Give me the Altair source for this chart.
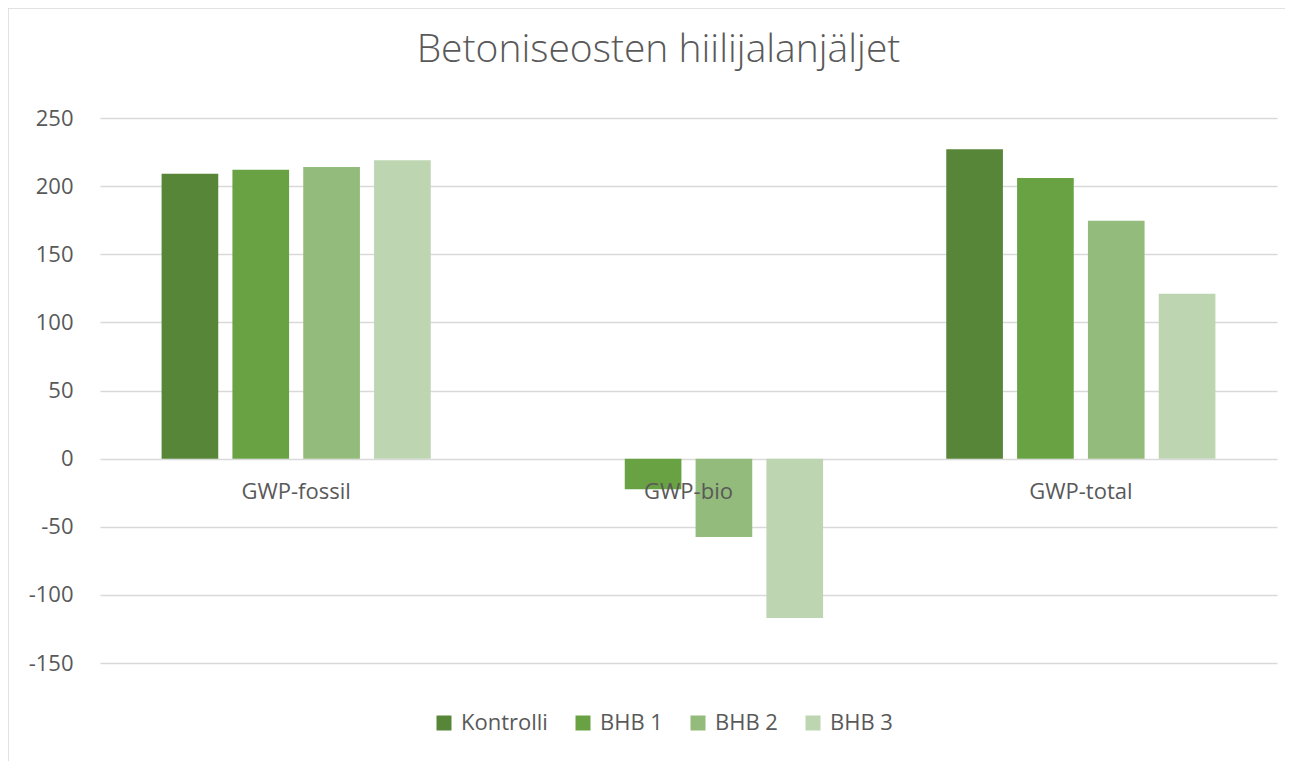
import altair as alt
import pandas as pd

categories = ["GWP-fossil", "GWP-bio", "GWP-total"]
series = ["Kontrolli", "BHB 1", "BHB 2", "BHB 3"]
values = {
    "Kontrolli": [209, 0, 227],
    "BHB 1": [212, -22.5, 206],
    "BHB 2": [214, -57.5, 174.5],
    "BHB 3": [219, -117, 121],
}
colors = ["#578639", "#69a243", "#93bb7b", "#bdd5b1"]
y_ticks = [-150, -100, -50, 0, 50, 100, 150, 200, 250]

rows = []
for s in series:
    for c, v in zip(categories, values[s]):
        rows.append({"Kategoria": c, "Sarja": s, "Arvo": v})
df = pd.DataFrame(rows)

FONT = "Open Sans"
GREY = "#595959"

bars = alt.Chart(df).mark_bar().encode(
    x=alt.X("Kategoria:N", sort=categories,
            scale=alt.Scale(paddingInner=0.314, paddingOuter=0.157),
            axis=alt.Axis(title=None, labelAngle=0, ticks=False, domain=False,
                          offset=-204, labelPadding=22, labelFontSize=22,
                          labelColor=GREY, labelFont=FONT, zindex=1)),
    xOffset=alt.XOffset("Sarja:N", sort=series,
                        scale=alt.Scale(paddingInner=0.2, paddingOuter=0)),
    y=alt.Y("Arvo:Q", scale=alt.Scale(domain=[-150, 250], nice=False, zero=False),
            axis=alt.Axis(title=None, values=y_ticks, ticks=False, domain=False,
                          labelExpr="'' + datum.value",
                          labelPadding=27, labelFontSize=22, labelColor=GREY,
                          labelFont=FONT, gridColor="#d9d9d9", gridWidth=1.5)),
    color=alt.Color("Sarja:N", sort=series,
                    scale=alt.Scale(domain=series, range=colors),
                    legend=alt.Legend(title=None, orient="none", direction="horizontal",
                                      legendX=333, legendY=594, symbolType="square",
                                      symbolSize=225, symbolStrokeWidth=0,
                                      labelFontSize=22, labelColor=GREY, labelFont=FONT,
                                      labelOffset=6, columnPadding=24)),
)

frame_df = pd.DataFrame({"k": [0]})
left_border = alt.Chart(frame_df).mark_rule(color="#d9d9d9", strokeWidth=1.5).encode(
    x=alt.value(-92), y=alt.value(-110), y2=alt.value(660))
top_border = alt.Chart(frame_df).mark_rule(color="#d9d9d9", strokeWidth=1.5).encode(
    x=alt.value(-92), x2=alt.value(1200), y=alt.value(-110))

chart = alt.layer(bars, left_border, top_border).properties(
    width=1177, height=545,
    autosize=alt.AutoSizeParams(type="none"),
    padding={"left": 92, "top": 110, "right": 8, "bottom": 98},
    title=alt.TitleParams("Betoniseosten hiilijalanjäljet", fontSize=39, font=FONT,
                          fontWeight=300, color=GREY, anchor="middle", dx=-30,
                          baseline="alphabetic", offset=-94),
).configure_view(stroke=None)

chart.save("out.html", embed_options={"renderer": "svg", "actions": False})
